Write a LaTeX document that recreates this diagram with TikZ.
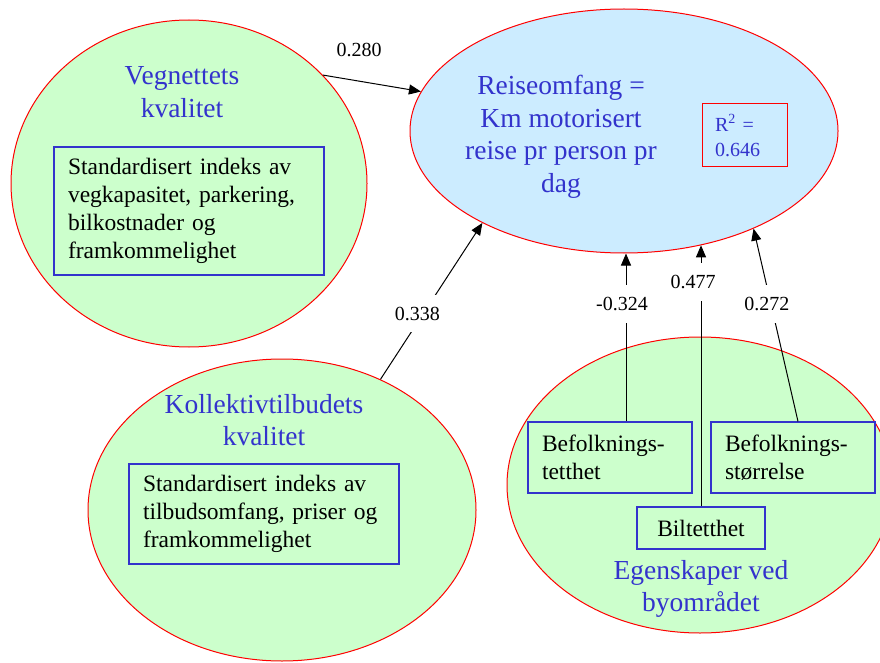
\documentclass[tikz,border=0pt]{standalone}
\usepackage{fontspec}
\setmainfont{Liberation Serif}
\usetikzlibrary{arrows.meta,calc,shapes.geometric}
\definecolor{tblue}{RGB}{51,51,204}
\definecolor{lgreen}{RGB}{204,255,204}
\definecolor{lblue}{RGB}{204,236,255}
\begin{document}
\begin{tikzpicture}[x=1pt,y=-1pt,
  ell/.style={ellipse, draw=red, line width=1pt, inner sep=0pt},
  ttl/.style={text=tblue, font=\fontsize{27.5}{32.5}\selectfont, align=center},
  box/.style={draw=tblue, line width=1.1pt, align=left, font=\fontsize{23.5}{28}\selectfont, inner xsep=14pt, inner ysep=0pt},
  lbl/.style={font=\fontsize{20}{24}\selectfont, fill=white, inner xsep=3pt, inner ysep=12pt},
  arr/.style={-{Triangle[length=12pt,width=10pt]}, line width=1pt}]
\useasboundingbox (0,0) rectangle (880,663);
\fill[white] (0,0) rectangle (880,663);
% ellipses
\node[ell, fill=lgreen, minimum width=356pt, minimum height=327pt] (e1) at (189,183.5) {};
\node[ell, fill=lblue, minimum width=428pt, minimum height=244pt] (e2) at (624,131) {};
\node[ell, fill=lgreen, minimum width=388pt, minimum height=302pt] (e3) at (282,510) {};
\node[ell, fill=lgreen, minimum width=386pt, minimum height=296pt] (e4) at (700,485) {};
% titles
\node[ttl] (t1) at (182,92) {Vegnettets\\kvalitet};
\node[ttl] (t2) at (561,137) {Reiseomfang =\\Km motorisert\\reise pr person pr\\dag};
\node[ttl] (t3) at (264,420) {Kollektivtilbudets\\kvalitet};
\node[ttl] (t4) at (701,589) {Egenskaper ved\\byområdet};
% boxes
\node[box, text width=242pt, minimum height=128pt] (b1) at (189,211) {Standardisert indeks av\\vegkapasitet, parkering,\\bilkostnader og\\framkommelighet};
\node[box, text width=242pt, minimum height=100pt] (b3) at (264,514) {Standardisert indeks av\\tilbudsomfang, priser og\\framkommelighet};
\node[box, text width=136pt, minimum height=71pt] (tt) at (610,457.5) {Befolknings-\\tetthet};
\node[box, text width=136pt, minimum height=71pt] (st) at (793,457.5) {Befolknings-\\størrelse};
\node[box, align=center, minimum width=128pt, minimum height=42pt] (bt) at (701,528) {Biltetthet};
\node[draw=red, line width=1pt, text=tblue, font=\fontsize{20}{25}\selectfont, align=left, text width=59pt, inner xsep=13pt, inner ysep=0pt, minimum height=63pt] (r2) at (744.5,135.5) {R\textsuperscript{2} =\\0.646};
% arrows
\draw[arr] (e1.39.8) -- node[lbl, fill=none, pos=.37, yshift=31pt] (l1) {0.280} (e2.169.7);
\draw[arr] (e3.53.8) -- node[lbl, pos=.42, xshift=-6pt] (l2) {0.338} (e2.213.2);
\draw[arr] ([xshift=16pt]tt.north) -- node[lbl, pos=.70, xshift=-4pt] (l3) {-0.324} ([xshift=16pt]tt.north |- e2.south);
\draw[arr] (bt.north) -- node[lbl, pos=.86, xshift=-8pt] (l4) {0.477} (bt.north |- e2.-56);
\draw[arr] ([xshift=5pt]st.north) -- node[lbl, pos=.61, xshift=-4pt] (l5) {0.272} (e2.-37);
\end{tikzpicture}
\end{document}
